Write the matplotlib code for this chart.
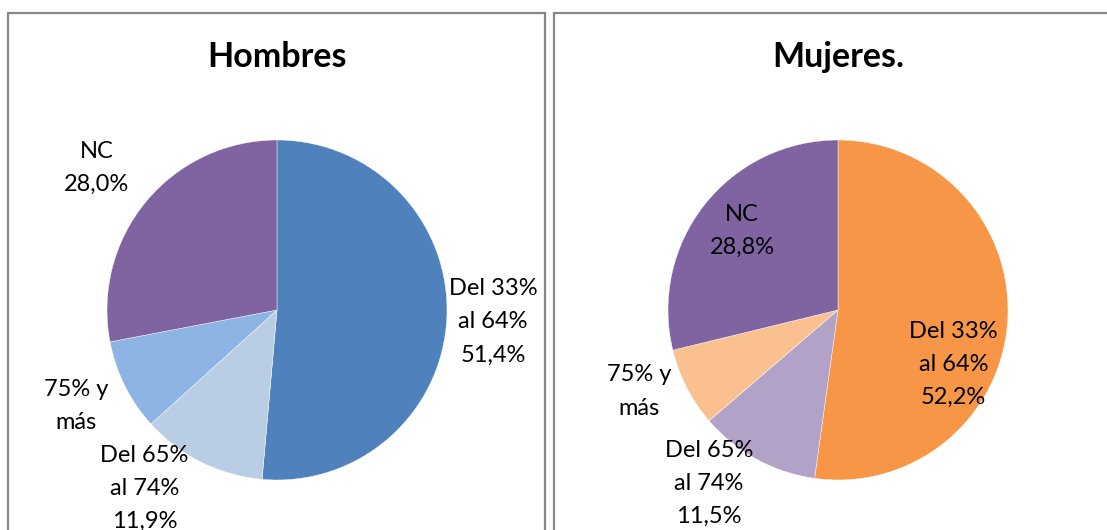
import matplotlib
matplotlib.use("Agg")
import matplotlib.pyplot as plt
from matplotlib.patches import Rectangle

W, H = 1107, 530
DPI = 100

categories = ["Del 33%\nal 64%", "Del 65%\nal 74%", "75% y\nmás", "NC"]
hombres = [51.4, 11.9, 8.7, 28.0]
mujeres = [52.2, 11.5, 7.5, 28.8]
hombres_labels = ["Del 33%\nal 64%\n51,4%", "Del 65%\nal 74%\n11,9%", "75% y\nmás", "NC\n28,0%"]
mujeres_labels = ["Del 33%\nal 64%\n52,2%", "Del 65%\nal 74%\n11,5%", "75% y\nmás", "NC\n28,8%"]
titles = ["Hombres", "Mujeres."]

colors_h = ["#4F81BD", "#B9CDE5", "#8EB4E3", "#8064A2"]
colors_m = ["#F79646", "#B3A2C7", "#FAC090", "#8064A2"]

# label positions in pie-radius units (layout)
pos_h = [(1.27, -0.07), (-0.78, -1.05), (-1.18, -0.565), (-1.06, 0.835)]
pos_m = [(0.68, -0.32), (-0.76, -1.02), (-1.17, -0.48), (-0.565, 0.465)]

FONT = "Lato"

fig = plt.figure(figsize=(W / DPI, H / DPI), dpi=DPI)
fig.patch.set_facecolor("white")

# panel borders
for x0, x1 in [(8, 545), (554, 1120)]:
    fig.patches.append(Rectangle((x0 / W, -0.1), (x1 - x0) / W, (H - 13 + H * 0.1) / H,
                                 transform=fig.transFigure, fill=False,
                                 edgecolor="#878787", linewidth=1.6))

R = 170
for cx, vals, cols, labs, pos, title in [
    (277, hombres, colors_h, hombres_labels, pos_h, titles[0]),
    (838, mujeres, colors_m, mujeres_labels, pos_m, titles[1]),
]:
    cy = 310
    ax = fig.add_axes([(cx - R) / W, (H - cy - R) / H, 2 * R / W, 2 * R / H])
    ax.pie(vals, colors=cols, startangle=90, counterclock=False, radius=1,
           wedgeprops=dict(edgecolor="white", linewidth=0.3))
    ax.set_xlim(-1, 1)
    ax.set_ylim(-1, 1)
    ax.set_aspect("equal")
    ax.axis("off")
    for (px, py), lab in zip(pos, labs):
        ax.text(px, py, lab, ha="center", va="center", fontsize=17,
                family=FONT, linespacing=1.72, clip_on=False, color="black")
    fig.text(cx / W, 1 - 57 / H, title, ha="center", va="center",
             fontsize=24.5, fontweight="bold", family=FONT)

fig.savefig("out.png", dpi=DPI)
